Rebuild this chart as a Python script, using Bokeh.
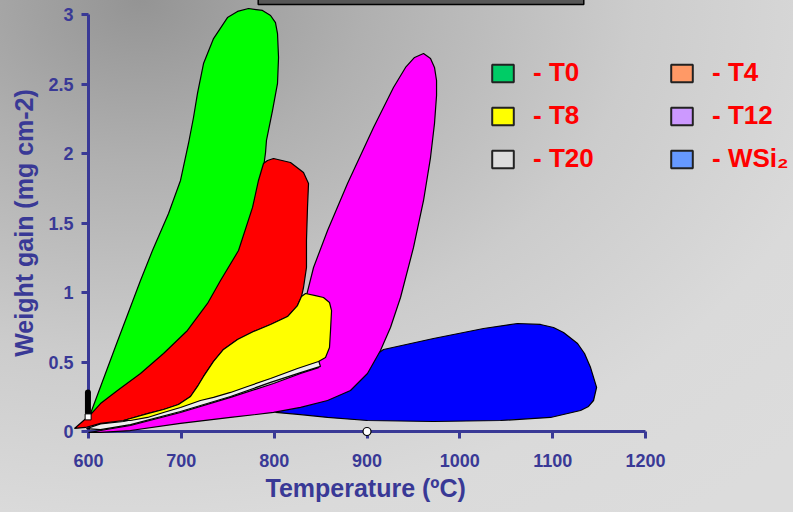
from bokeh.plotting import figure
from bokeh.models import (Range1d, FixedTicker, CustomJSTickFormatter, Legend,
                          LegendItem, Title)
from bokeh.embed import file_html
from bokeh.resources import INLINE

# ---------------- data ----------------
x_ticks = [600, 700, 800, 900, 1000, 1100, 1200]
y_ticks = [0, 0.5, 1, 1.5, 2, 2.5, 3]

legend_labels_left = ["- T0", "- T8", "- T20"]
legend_colors_left = ["#00cc66", "#ffff00", "#dddddd"]
legend_labels_right = ["- T4", "- T12", "- WSi\u2082"]
legend_colors_right = ["#ff9966", "#cc99ff", "#6699ff"]

# outlines of the coloured regions (temperature degC, weight gain mg cm-2)
green_T = [602.2, 629.1, 656.0, 668.9, 686.2, 699.1, 707.7, 713.1, 717.4, 723.9,
           734.7, 749.7, 760.5, 772.4, 787.4, 796.1, 801.4, 803.6, 804.7, 803.6,
           798.2, 791.7, 790.7, 787.4, 779.9, 767.0, 748.7, 733.6, 712.0, 686.2,
           661.4, 635.5, 616.2, 606.5]
green_W = [0.129, 0.611, 1.086, 1.302, 1.568, 1.806, 2.072, 2.259, 2.432, 2.647,
           2.827, 2.978, 3.022, 3.043, 3.029, 2.993, 2.942, 2.863, 2.691, 2.504,
           2.309, 2.094, 2.007, 1.842, 1.626, 1.302, 1.065, 0.906, 0.712, 0.547,
           0.403, 0.273, 0.187, 0.144]

red_T = [584.9, 602.2, 612.9, 631.2, 656.0, 680.8, 706.6, 728.2, 742.2, 761.6,
         776.7, 783.1, 788.5, 792.8, 799.3, 817.6, 831.6, 837.0, 835.9, 834.8,
         834.8, 831.6, 829.4, 825.1, 814.4, 796.1, 777.7, 760.5, 745.4, 734.7,
         723.9, 717.4, 709.9, 696.9, 680.8, 663.6, 637.7, 612.9, 596.8]
red_W = [0.022, 0.122, 0.201, 0.295, 0.417, 0.561, 0.727, 0.921, 1.086, 1.302,
         1.612, 1.806, 1.928, 1.950, 1.964, 1.935, 1.863, 1.784, 1.612, 1.374,
         1.180, 1.036, 0.971, 0.906, 0.827, 0.770, 0.719, 0.662, 0.590, 0.504,
         0.396, 0.324, 0.252, 0.194, 0.158, 0.129, 0.079, 0.058, 0.029]

yellow_T = [637.7, 663.6, 680.8, 696.9, 709.9, 717.4, 723.9, 734.7, 745.4, 760.5,
            777.7, 796.1, 814.4, 825.1, 829.4, 833.8, 844.5, 853.1, 859.6, 861.8,
            860.7, 859.6, 855.3, 847.8, 825.1, 796.1, 771.3, 753.0, 734.7, 720.6,
            699.1, 680.8, 663.6, 645.2]
yellow_W = [0.079, 0.129, 0.158, 0.194, 0.252, 0.324, 0.396, 0.504, 0.590, 0.662,
            0.719, 0.770, 0.827, 0.906, 0.971, 0.993, 0.978, 0.964, 0.928, 0.870,
            0.727, 0.604, 0.532, 0.504, 0.453, 0.381, 0.324, 0.281, 0.245, 0.223,
            0.173, 0.137, 0.101, 0.079]

white_T = [597.8, 612.9, 637.7, 663.6, 680.8, 699.1, 720.6, 753.0, 796.1, 825.1,
           847.8, 849.9, 828.4, 796.1, 753.0, 699.1, 645.2, 612.9]
white_W = [0.020, 0.055, 0.072, 0.108, 0.144, 0.180, 0.230, 0.288, 0.388, 0.460,
           0.511, 0.468, 0.424, 0.353, 0.252, 0.144, 0.050, 0.014]

magenta_T = [960.9, 968.4, 972.7, 974.9, 974.9, 972.7, 968.4, 960.9, 950.1, 936.1,
             925.3, 914.5, 900.5, 882.2, 857.5, 828.4, 799.3, 753.0, 699.1, 645.2,
             612.9, 600.0, 612.9, 645.2, 699.1, 753.0, 799.3, 828.4, 847.8, 841.3,
             834.8, 842.4, 857.5, 879.0, 907.0, 928.5, 941.5, 951.2]
magenta_W = [2.719, 2.683, 2.619, 2.525, 2.417, 2.216, 1.971, 1.662, 1.324, 0.964,
             0.748, 0.583, 0.417, 0.295, 0.223, 0.173, 0.137, 0.101, 0.058, 0.007,
             -0.007, -0.007, 0.007, 0.043, 0.137, 0.245, 0.345, 0.417, 0.460, 0.727,
             0.978, 1.180, 1.446, 1.784, 2.187, 2.475, 2.619, 2.691]

blue_T = [801.4, 828.4, 860.7, 893.0, 917.8, 971.6, 1025.5, 1062.1, 1086.9, 1100.9,
          1111.7, 1126.8, 1134.3, 1140.8, 1147.3, 1144.0, 1138.6, 1130.0, 1097.7, 1043.8,
          971.6, 900.5, 857.5, 828.4]
blue_W = [0.137, 0.223, 0.331, 0.475, 0.590, 0.669, 0.741, 0.777, 0.770, 0.748,
          0.712, 0.633, 0.561, 0.460, 0.317, 0.223, 0.180, 0.151, 0.101, 0.079,
          0.072, 0.079, 0.101, 0.122]

bar_T = [599.4, 599.4]
bar_W = [0.135, 0.28]
square_T = [599.6]
square_W = [0.105]
point_T = [900]
point_W = [0]
top_box_T = [782.8, 1133.5]
top_box_W = [3.072, 3.3]

# ---------------- styling ----------------
AXIS = "#393996"
FONT = "Liberation Sans"
NAN = float("nan")

p = figure(width=793, height=512, x_range=Range1d(600, 1359.4), y_range=Range1d(0, 3),
           output_backend="svg", toolbar_location=None,
           min_border_left=88, min_border_right=0, min_border_top=14,
           min_border_bottom=81)
p.background_fill_alpha = 0
p.border_fill_alpha = 0
p.outline_line_color = None
p.grid.visible = False
p.styles = {"background": "radial-gradient(ellipse 900px 650px at 140px 0px, "
                          "#949494 0%, #b0b0b0 25%, #cccccc 55%, #dadada 80%, #dcdcdc 100%)"}

fmt = CustomJSTickFormatter(code="return tick.toString();")
for ax, ticks in ((p.xaxis[0], x_ticks), (p.yaxis[0], y_ticks)):
    ax.ticker = FixedTicker(ticks=ticks)
    ax.formatter = fmt
    ax.bounds = (ticks[0], ticks[-1])
    ax.axis_line_color = AXIS
    ax.axis_line_width = 3
    ax.major_tick_line_color = AXIS
    ax.major_tick_line_width = 3
    ax.major_tick_in = 0
    ax.major_tick_out = 7
    ax.minor_tick_line_color = None
    ax.major_label_text_font = FONT
    ax.major_label_text_font_size = "18px"
    ax.major_label_text_font_style = "bold"
    ax.major_label_text_color = AXIS
    ax.axis_label_text_font = FONT
    ax.axis_label_text_font_size = "25px"
    ax.axis_label_text_font_style = "bold"
    ax.axis_label_text_color = AXIS

p.xaxis[0].major_label_standoff = 15
p.yaxis[0].axis_label = "Weight gain (mg cm-2)"
p.yaxis[0].major_label_standoff = 8
p.yaxis[0].axis_label_standoff = 7

# x axis title, centred under the 600-1200 span of the axis
p.add_layout(Title(text="Temperature (\u00baC)", align="left", offset=177,
                   vertical_align="top", standoff=9,
                   text_font=FONT, text_font_size="25px", text_font_style="bold",
                   text_color=AXIS), "below")

OUT = dict(line_color="black", line_width=1.2, level="overlay")
p.patch(blue_T, blue_W, fill_color="#0000ff", **OUT)
p.patch(magenta_T, magenta_W, fill_color="#ff00ff", **OUT)
p.patch(white_T, white_W, fill_color="#eeeeee", **OUT)
p.patch(green_T, green_W, fill_color="#00ff00", **OUT)
p.patch(red_T, red_W, fill_color="#ff0000", **OUT)
p.patch(yellow_T, yellow_W, fill_color="#ffff00", **OUT)

p.line(bar_T, bar_W, line_color="black", line_width=6, line_cap="round", level="overlay")
p.scatter(square_T, square_W, marker="square", size=6, fill_color="white",
          line_color="black", line_width=1, level="overlay")
p.scatter(point_T, point_W, marker="circle", size=8, fill_color="white",
          line_color="black", line_width=1.2, level="overlay")

# dark box cut by the top edge of the picture
p.quad(left=[top_box_T[0]], right=[top_box_T[1]], bottom=[top_box_W[0]], top=[top_box_W[1]],
       fill_color="#575757", line_color="black", line_width=1.5, level="overlay")


def make_legend(labels, colors, loc):
    items = []
    for lab, col in zip(labels, colors):
        r = p.quad(left=[NAN], right=[NAN], top=[NAN], bottom=[NAN], fill_color=col,
                   line_color="#222222", line_width=2)
        items.append(LegendItem(label=lab, renderers=[r]))
    lg = Legend(items=items, location=loc, orientation="vertical",
                glyph_width=27, glyph_height=22, label_standoff=17, spacing=12,
                padding=0, margin=0, border_line_color=None, background_fill_alpha=0,
                label_text_font=FONT, label_text_font_size="26px",
                label_text_font_style="bold", label_text_color="#ff0000",
                label_height=22)
    p.add_layout(lg, "center")


make_legend(legend_labels_left, legend_colors_left, (401, 257))
make_legend(legend_labels_right, legend_colors_right, (580, 257))

open("out.html", "w").write(file_html(p, INLINE))
